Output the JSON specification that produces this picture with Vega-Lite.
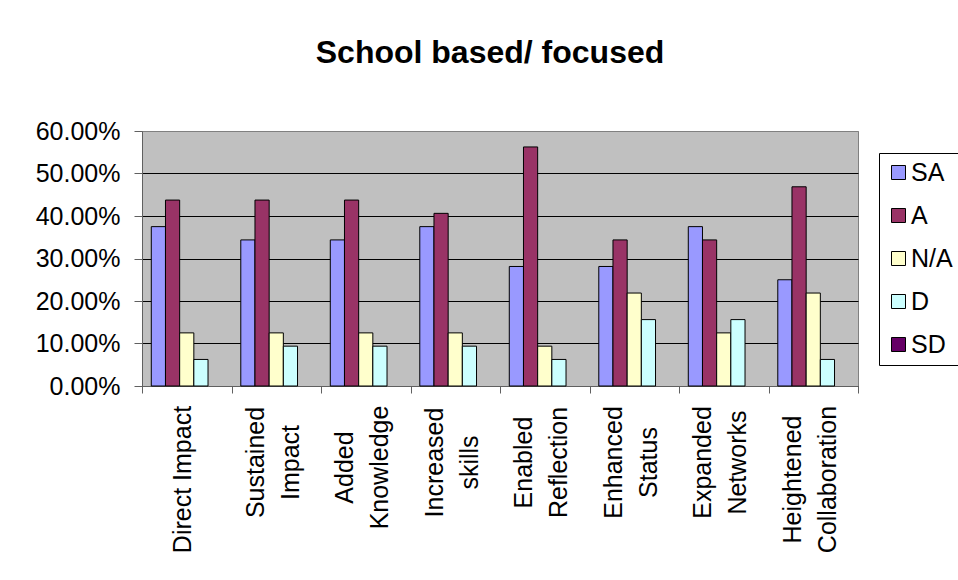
{
  "$schema": "https://vega.github.io/schema/vega-lite/v6.json",
  "width": 716,
  "height": 255,
  "autosize": {"type": "none"},
  "padding": {"left": 142, "top": 131, "right": 100, "bottom": 194},
  "background": "white",
  "title": {
    "text": "School based/ focused",
    "font": "Liberation Sans",
    "fontSize": 32,
    "fontWeight": "bold",
    "color": "black",
    "frame": "group",
    "anchor": "middle",
    "dx": -10,
    "offset": 49
  },
  "config": {
    "view": {"fill": "#C0C0C0", "stroke": "#808080", "strokeWidth": 1},
    "font": "Liberation Sans"
  },
  "data": {
    "values": [
      {"c": "Direct Impact", "s": "SA", "v": 0.375},
      {"c": "Direct Impact", "s": "A", "v": 0.4375},
      {"c": "Direct Impact", "s": "N/A", "v": 0.125},
      {"c": "Direct Impact", "s": "D", "v": 0.0625},
      {"c": "Direct Impact", "s": "SD", "v": 0},
      {"c": "Sustained Impact", "s": "SA", "v": 0.34375},
      {"c": "Sustained Impact", "s": "A", "v": 0.4375},
      {"c": "Sustained Impact", "s": "N/A", "v": 0.125},
      {"c": "Sustained Impact", "s": "D", "v": 0.09375},
      {"c": "Sustained Impact", "s": "SD", "v": 0},
      {"c": "Added Knowledge", "s": "SA", "v": 0.34375},
      {"c": "Added Knowledge", "s": "A", "v": 0.4375},
      {"c": "Added Knowledge", "s": "N/A", "v": 0.125},
      {"c": "Added Knowledge", "s": "D", "v": 0.09375},
      {"c": "Added Knowledge", "s": "SD", "v": 0},
      {"c": "Increased skills", "s": "SA", "v": 0.375},
      {"c": "Increased skills", "s": "A", "v": 0.40625},
      {"c": "Increased skills", "s": "N/A", "v": 0.125},
      {"c": "Increased skills", "s": "D", "v": 0.09375},
      {"c": "Increased skills", "s": "SD", "v": 0},
      {"c": "Enabled Reflection", "s": "SA", "v": 0.28125},
      {"c": "Enabled Reflection", "s": "A", "v": 0.5625},
      {"c": "Enabled Reflection", "s": "N/A", "v": 0.09375},
      {"c": "Enabled Reflection", "s": "D", "v": 0.0625},
      {"c": "Enabled Reflection", "s": "SD", "v": 0},
      {"c": "Enhanced Status", "s": "SA", "v": 0.28125},
      {"c": "Enhanced Status", "s": "A", "v": 0.34375},
      {"c": "Enhanced Status", "s": "N/A", "v": 0.21875},
      {"c": "Enhanced Status", "s": "D", "v": 0.15625},
      {"c": "Enhanced Status", "s": "SD", "v": 0},
      {"c": "Expanded Networks", "s": "SA", "v": 0.375},
      {"c": "Expanded Networks", "s": "A", "v": 0.34375},
      {"c": "Expanded Networks", "s": "N/A", "v": 0.125},
      {"c": "Expanded Networks", "s": "D", "v": 0.15625},
      {"c": "Expanded Networks", "s": "SD", "v": 0},
      {"c": "Heightened Collaboration", "s": "SA", "v": 0.25},
      {"c": "Heightened Collaboration", "s": "A", "v": 0.46875},
      {"c": "Heightened Collaboration", "s": "N/A", "v": 0.21875},
      {"c": "Heightened Collaboration", "s": "D", "v": 0.0625},
      {"c": "Heightened Collaboration", "s": "SD", "v": 0}
    ]
  },
  "mark": {"type": "bar", "stroke": "black"},
  "encoding": {
    "x": {
      "field": "c",
      "type": "nominal",
      "sort": null,
      "scale": {"paddingInner": 0, "paddingOuter": 0},
      "axis": {
        "title": null,
        "labelExpr": "!isValid(datum.value) ? '' : (datum.value == 'Direct Impact' ? ['Direct Impact'] : split(datum.value, ' '))",
        "labelAngle": -90,
        "labelAlign": "center",
        "labelBaseline": "middle",
        "labelFontSize": 25,
        "labelLineHeight": 35,
        "labelColor": "black",
        "labelPadding": {"condition": [
          {"test": "datum.value == 'Direct Impact' || datum.value == 'Heightened Collaboration'", "value": 86},
          {"test": "datum.value == 'Added Knowledge'", "value": 74}
        ], "value": 69},
        "labelOffset": {"condition": {"test": "datum.value == 'Direct Impact'", "value": -4}, "value": -21},
        "labelOverlap": false,
        "labelBound": false,
        "labelFlush": false,
        "tickBand": "extent",
        "tickSize": 7,
        "tickColor": "#606060",
        "domainColor": "#606060",
        "domainWidth": 1
      }
    },
    "xOffset": {
      "field": "s",
      "type": "nominal",
      "sort": ["SA", "A", "N/A", "D", "SD"],
      "scale": {"paddingInner": 0, "paddingOuter": 0.655}
    },
    "y": {
      "field": "v",
      "type": "quantitative",
      "scale": {"domain": [0, 0.6], "nice": false},
      "axis": {
        "title": null,
        "values": [0, 0.1, 0.2, 0.3, 0.4, 0.5, 0.6],
        "format": ".2%",
        "labelFontSize": 25,
        "labelColor": "black",
        "labelPadding": 14,
        "tickSize": 8,
        "tickColor": "#606060",
        "domainColor": "#606060",
        "grid": true,
        "gridColor": {"condition": {"test": "datum.value >= 0.6", "value": "#808080"}, "value": "black"},
        "gridWidth": 1
      }
    },
    "strokeWidth": {
      "condition": {"test": "datum.v == 0", "value": 0},
      "value": 1
    },
    "color": {
      "field": "s",
      "type": "nominal",
      "scale": {
        "domain": ["SA", "A", "N/A", "D", "SD"],
        "range": ["#9999FF", "#993366", "#FFFFCC", "#CCFFFF", "#660066"]
      },
      "legend": {
        "title": null,
        "orient": "none",
        "legendX": 737,
        "legendY": 22,
        "padding": 7,
        "strokeColor": "black",
        "fillColor": "white",
        "symbolType": "square",
        "symbolSize": 196,
        "symbolStrokeColor": "black",
        "symbolStrokeWidth": 1,
        "symbolOpacity": 1,
        "labelFontSize": 25,
        "labelColor": "black",
        "labelOffset": 0,
        "rowPadding": 17
      }
    }
  }
}
